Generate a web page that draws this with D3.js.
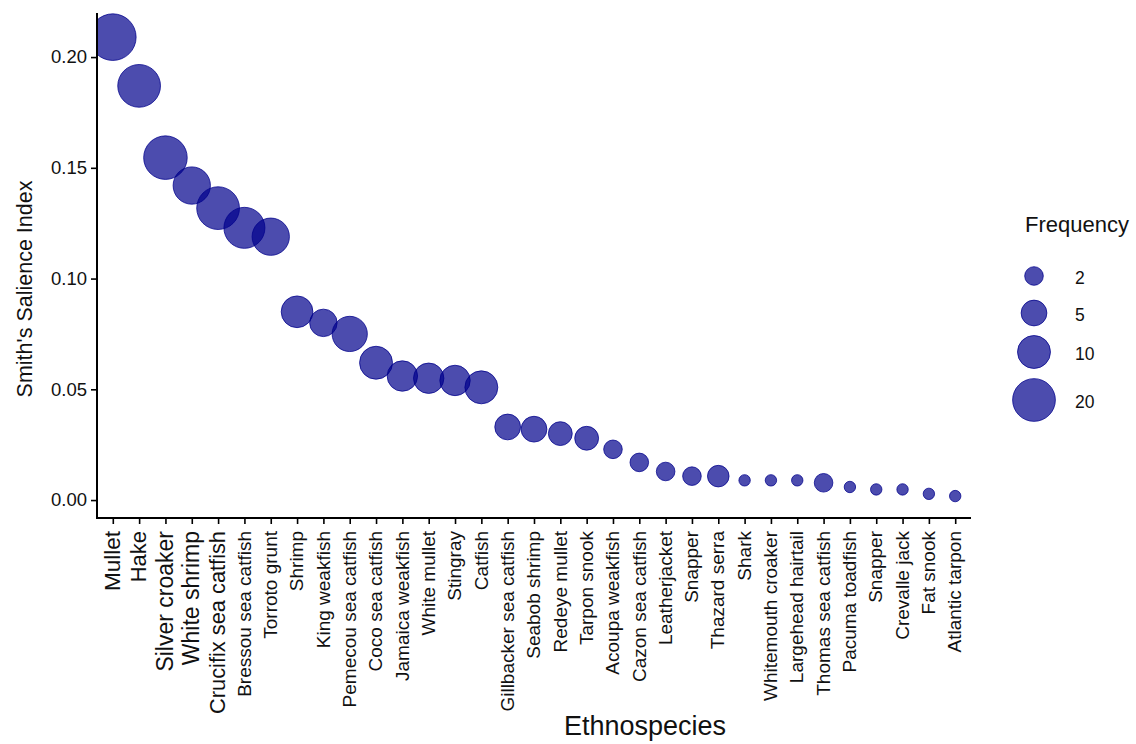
<!DOCTYPE html>
<html>
<head>
<meta charset="utf-8">
<script src="https://cdn.jsdelivr.net/npm/d3@7"></script>
<style>
  html, body { margin: 0; padding: 0; background: #fff; }
  svg { display: block; font-family: "Liberation Sans", Arial, sans-serif; }
</style>
</head>
<body>
<svg id="chart" width="1136" height="744"></svg>
<script>
// ---- data ----
const species = ["Mullet", "Hake", "Silver croaker", "White shrimp", "Crucifix sea catfish",
  "Bressou sea catfish", "Torroto grunt", "Shrimp", "King weakfish", "Pemecou sea catfish",
  "Coco sea catfish", "Jamaica weakfish", "White mullet", "Stingray", "Catfish",
  "Gillbacker sea catfish", "Seabob shrimp", "Redeye mullet", "Tarpon snook", "Acoupa weakfish",
  "Cazon sea catfish", "Leatherjacket", "Snapper", "Thazard serra", "Shark",
  "Whitemouth croaker", "Largehead hairtail", "Thomas sea catfish", "Pacuma toadfish", "Snapper",
  "Crevalle jack", "Fat snook", "Atlantic tarpon"];
const salience = [0.209, 0.187, 0.1546, 0.142, 0.1318,
  0.1229, 0.1189, 0.085, 0.080, 0.075,
  0.062, 0.056, 0.055, 0.054, 0.0509,
  0.033, 0.032, 0.030, 0.0279, 0.0229,
  0.017, 0.0129, 0.0108, 0.0108, 0.0089,
  0.0089, 0.0089, 0.0078, 0.0059, 0.0048,
  0.0048, 0.0028, 0.0018];
const frequency = [25, 20, 21, 14, 20,
  18, 14, 9, 6, 12,
  10, 8, 8, 8, 10,
  5, 5, 4, 4, 2,
  2, 2, 2, 3, 1,
  1, 1, 2, 1, 1,
  1, 1, 1];
const yTicks = [0.00, 0.05, 0.10, 0.15, 0.20];
const legendValues = [2, 5, 10, 20];

// style: the first labels are drawn larger in the reference
const leadLabelSizes = [22.5, 22, 23, 23, 21.8];
const baseLabelSize = 19;

// ---- layout ----
const svg = d3.select("#chart");
const panel = { left: 97, right: 971, top: 13, bottom: 518 };
const fillColor = "#00008B";

const x = d3.scalePoint()
  .domain(d3.range(species.length))
  .range([panel.left, panel.right])
  .padding(0.6);

const y = d3.scaleLinear()
  .domain([-0.0081, 0.2199])
  .range([panel.bottom, panel.top]);

const fMin = d3.min(frequency), fMax = d3.max(frequency);
const rExtra = d3.scaleSqrt().domain([0, fMax - fMin]).range([0, 17.6]);
const radius = f => 5.7 + rExtra(f - fMin);

// clip
svg.append("defs").append("clipPath").attr("id", "panelClip")
  .append("rect")
  .attr("x", panel.left).attr("y", panel.top)
  .attr("width", panel.right - panel.left)
  .attr("height", panel.bottom - panel.top);

// points
const data = species.map((s, i) => ({ i, s, v: salience[i], f: frequency[i] }));
svg.append("g").attr("clip-path", "url(#panelClip)")
  .selectAll("circle").data(data).enter().append("circle")
  .attr("cx", d => x(d.i))
  .attr("cy", d => y(d.v))
  .attr("r", d => radius(d.f))
  .attr("fill", fillColor).attr("fill-opacity", 0.7)
  .attr("stroke", fillColor).attr("stroke-opacity", 0.75).attr("stroke-width", 1);

// y axis
const yAxis = svg.append("g")
  .attr("transform", `translate(${panel.left},0)`)
  .call(d3.axisLeft(y).tickValues(yTicks).tickFormat(d3.format(".2f")).tickSize(6).tickPadding(4));
yAxis.select(".domain").attr("d", `M0,${panel.top}V${panel.bottom}`).attr("stroke", "#000").attr("stroke-width", 2);
yAxis.selectAll(".tick line").attr("stroke", "#000").attr("stroke-width", 1.6);
yAxis.selectAll(".tick text").attr("fill", "#111").style("font-size", "18.5px")
  .style("font-family", "'Liberation Sans', Arial, sans-serif");

// x axis
const xAxis = svg.append("g")
  .attr("transform", `translate(0,${panel.bottom})`)
  .call(d3.axisBottom(x).tickFormat(i => species[i]).tickSize(6).tickPadding(4));
xAxis.select(".domain").attr("d", `M${panel.left - 1},0H${panel.right}`).attr("stroke", "#000").attr("stroke-width", 2);
xAxis.selectAll(".tick line").attr("stroke", "#000").attr("stroke-width", 1.6);
xAxis.selectAll(".tick text")
  .attr("fill", "#111")
  .style("font-family", "'Liberation Sans', Arial, sans-serif")
  .style("font-size", (d, k) => (k < leadLabelSizes.length ? leadLabelSizes[k] : baseLabelSize) + "px")
  .attr("text-anchor", "end")
  .attr("transform", "rotate(-90)")
  .attr("x", -13)
  .attr("y", 0)
  .attr("dy", "0.3em");

// axis titles
svg.append("text")
  .attr("transform", "translate(32,289) rotate(-90)")
  .attr("text-anchor", "middle")
  .attr("fill", "#111")
  .style("font-size", "21.5px")
  .text("Smith's Salience Index");

svg.append("text")
  .attr("x", 645).attr("y", 735)
  .attr("text-anchor", "middle")
  .attr("fill", "#111")
  .style("font-size", "27px")
  .text("Ethnospecies");

// legend
const legend = svg.append("g");
legend.append("text")
  .attr("x", 1025).attr("y", 232)
  .attr("fill", "#111")
  .style("font-size", "22px")
  .text("Frequency");
const legendY = [276, 313, 352, 400];
legendValues.forEach((v, k) => {
  legend.append("circle")
    .attr("cx", 1034).attr("cy", legendY[k])
    .attr("r", radius(v))
    .attr("fill", fillColor).attr("fill-opacity", 0.7)
    .attr("stroke", fillColor).attr("stroke-opacity", 0.75).attr("stroke-width", 1);
  legend.append("text")
    .attr("x", 1075).attr("y", legendY[k] + 1.5)
    .attr("dy", "0.35em")
    .attr("fill", "#111")
    .style("font-size", "17.5px")
    .text(v);
});
</script>
</body>
</html>
